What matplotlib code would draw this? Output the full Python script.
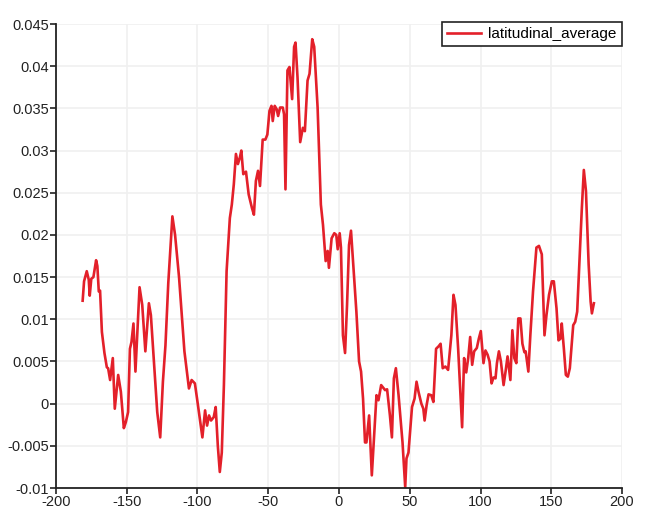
import matplotlib
matplotlib.use("Agg")
import matplotlib.pyplot as plt

# longitude (deg) and latitudinal average
lon = [-181.1, -180.1, -178.2, -176.8, -176.1, -175.0, -173.5, -171.6, -170.7, -169.7,
       -168.8, -167.5, -165.7, -164.0, -163.1, -161.7, -159.8, -158.4, -156.0, -154.1,
       -152.0, -150.6, -149.0, -147.7, -146.6, -145.2, -143.8, -140.9, -139.0, -136.8,
       -134.3, -132.9, -131.0, -128.4, -126.3, -124.4, -122.6, -120.6, -117.7, -115.8,
       -113.0, -109.2, -106.0, -104.1, -101.8, -100.2, -96.5, -94.6, -93.2, -91.8,
       -90.4, -88.5, -87.1, -85.6, -84.2, -82.8, -81.3, -79.4, -77.1, -75.7,
       -74.3, -72.8, -71.4, -70.0, -69.0, -67.6, -65.7, -63.8, -61.5, -60.1,
       -58.7, -57.2, -55.8, -53.9, -52.0, -50.6, -49.1, -47.7, -46.8, -45.4,
       -44.0, -43.0, -41.6, -39.7, -38.8, -37.8, -36.4, -35.0, -33.1, -31.7,
       -30.7, -29.3, -27.4, -25.5, -24.1, -22.2, -20.8, -18.9, -17.5, -15.1,
       -12.8, -11.3, -9.4, -8.0, -7.1, -5.2, -3.3, -1.9, -0.9, 0.5,
       1.4, 2.8, 4.3, 5.7, 7.1, 8.5, 10.4, 12.3, 14.2, 15.6,
       17.0, 18.4, 19.4, 21.3, 23.2, 25.0, 26.5, 27.9, 29.8, 31.2,
       32.6, 34.0, 36.0, 37.4, 38.8, 40.2, 42.1, 44.9, 46.8, 47.7,
       49.1, 51.6, 53.4, 54.8, 56.2, 58.2, 59.6, 60.5, 61.9, 63.3,
       65.2, 66.7, 68.6, 70.4, 71.8, 73.3, 75.2, 77.1, 78.5, 79.4,
       80.9, 82.3, 84.2, 85.6, 87.0, 88.4, 89.9, 91.3, 92.7, 94.1,
       95.5, 97.4, 98.8, 100.2, 102.1, 103.5, 105.0, 106.4, 107.8, 109.2,
       110.6, 111.6, 113.0, 114.4, 116.3, 117.7, 119.1, 121.1, 122.5, 123.9,
       125.3, 126.7, 128.2, 129.6, 131.0, 131.9, 133.8, 135.2, 137.1, 139.5,
       141.3, 143.3, 145.2, 146.6, 148.4, 150.4, 151.8, 153.7, 155.1, 156.5,
       157.4, 158.9, 160.3, 161.7, 163.1, 165.5, 166.9, 168.3, 169.7, 171.6,
       173.0, 174.5, 176.4, 177.8, 178.7, 180.1]
avg = [0.0122, 0.0145, 0.0157, 0.0147, 0.0128, 0.0148, 0.0150, 0.0170, 0.0163, 0.0133,
       0.0134, 0.0085, 0.0060, 0.0043, 0.0042, 0.0028, 0.0054, -0.0006, 0.0034, 0.0014,
       -0.0029, -0.0022, -0.0010, 0.0065, 0.0073, 0.0095, 0.0038, 0.0138, 0.0117, 0.0062,
       0.0119, 0.0105, 0.0056, -0.0010, -0.0040, 0.0026, 0.0069, 0.0143, 0.0222, 0.0200,
       0.0150, 0.0062, 0.0018, 0.0028, 0.0024, 0.0005, -0.0040, -0.0008, -0.0026, -0.0014,
       -0.0020, -0.0016, -0.0004, -0.0050, -0.0081, -0.0058, 0.0022, 0.0157, 0.0220, 0.0236,
       0.0260, 0.0296, 0.0284, 0.0292, 0.0300, 0.0272, 0.0275, 0.0248, 0.0232, 0.0224,
       0.0264, 0.0276, 0.0258, 0.0313, 0.0313, 0.0319, 0.0347, 0.0353, 0.0335, 0.0353,
       0.0349, 0.0341, 0.0351, 0.0351, 0.0343, 0.0254, 0.0395, 0.0399, 0.0361, 0.0423,
       0.0428, 0.0387, 0.0310, 0.0327, 0.0323, 0.0383, 0.0391, 0.0432, 0.0423, 0.0351,
       0.0236, 0.0212, 0.0169, 0.0181, 0.0161, 0.0196, 0.0202, 0.0200, 0.0183, 0.0202,
       0.0185, 0.0081, 0.0060, 0.0117, 0.0188, 0.0205, 0.0157, 0.0109, 0.0050, 0.0038,
       0.0006, -0.0046, -0.0046, -0.0014, -0.0085, -0.0034, 0.0010, 0.0004, 0.0022, 0.0019,
       0.0016, 0.0017, -0.0014, -0.0040, 0.0030, 0.0042, 0.0010, -0.0046, -0.0099, -0.0065,
       -0.0058, -0.0004, 0.0006, 0.0026, 0.0014, 0.0000, -0.0006, -0.0020, -0.0002, 0.0011,
       0.0010, 0.0002, 0.0065, 0.0068, 0.0071, 0.0042, 0.0044, 0.0040, 0.0065, 0.0081,
       0.0129, 0.0117, 0.0065, 0.0018, -0.0028, 0.0054, 0.0037, 0.0054, 0.0079, 0.0046,
       0.0062, 0.0066, 0.0077, 0.0086, 0.0048, 0.0063, 0.0058, 0.0050, 0.0024, 0.0031,
       0.0030, 0.0048, 0.0062, 0.0050, 0.0022, 0.0038, 0.0056, 0.0028, 0.0087, 0.0054,
       0.0048, 0.0101, 0.0101, 0.0071, 0.0061, 0.0062, 0.0038, 0.0081, 0.0133, 0.0185,
       0.0187, 0.0177, 0.0081, 0.0105, 0.0129, 0.0145, 0.0145, 0.0113, 0.0075, 0.0077,
       0.0095, 0.0065, 0.0034, 0.0032, 0.0042, 0.0093, 0.0097, 0.0109, 0.0161, 0.0232,
       0.0277, 0.0252, 0.0165, 0.0121, 0.0107, 0.0119]

x_ticks = [-200, -150, -100, -50, 0, 50, 100, 150, 200]
y_ticks = [-0.01, -0.005, 0, 0.005, 0.01, 0.015, 0.02, 0.025, 0.03, 0.035, 0.04, 0.045]
y_labels = ['-0.01', '-0.005', '0', '0.005', '0.01', '0.015', '0.02', '0.025',
            '0.03', '0.035', '0.04', '0.045']

plt.rcParams['font.family'] = ['Liberation Sans', 'DejaVu Sans']

fig = plt.figure(figsize=(6.5, 5.11), dpi=100)
ax = fig.add_axes([0.086, 0.045, 0.871, 0.908])

ax.plot(lon, avg, color='#e3202a', linewidth=1.9, label='latitudinal_average')

ax.set_xlim(-200, 200)
ax.set_ylim(-0.01, 0.045)
ax.set_xticks(x_ticks)
ax.set_xticklabels([str(t) for t in x_ticks])
ax.set_yticks(y_ticks)
ax.set_yticklabels(y_labels)

ax.grid(True, color='#f0f0f0', linewidth=1.2)
ax.set_axisbelow(True)
for side in ['top', 'right']:
    ax.spines[side].set_visible(False)
for side in ['left', 'bottom']:
    ax.spines[side].set_color('#222222')
    ax.spines[side].set_linewidth(1.3)
ax.tick_params(direction='out', length=4, width=1.2, colors='#222222',
               labelsize=10.5, pad=1)

# legend box sits flush with the right end of the x axis, just above the top
leg = ax.legend(loc='upper right', bbox_to_anchor=(1.0, 1.005), borderaxespad=0,
                fontsize=11, fancybox=False, framealpha=1, edgecolor='#222222',
                handlelength=2.2, borderpad=0.35, handletextpad=0.5)
leg.get_frame().set_linewidth(1.2)

fig.savefig('out.png', dpi=100)
